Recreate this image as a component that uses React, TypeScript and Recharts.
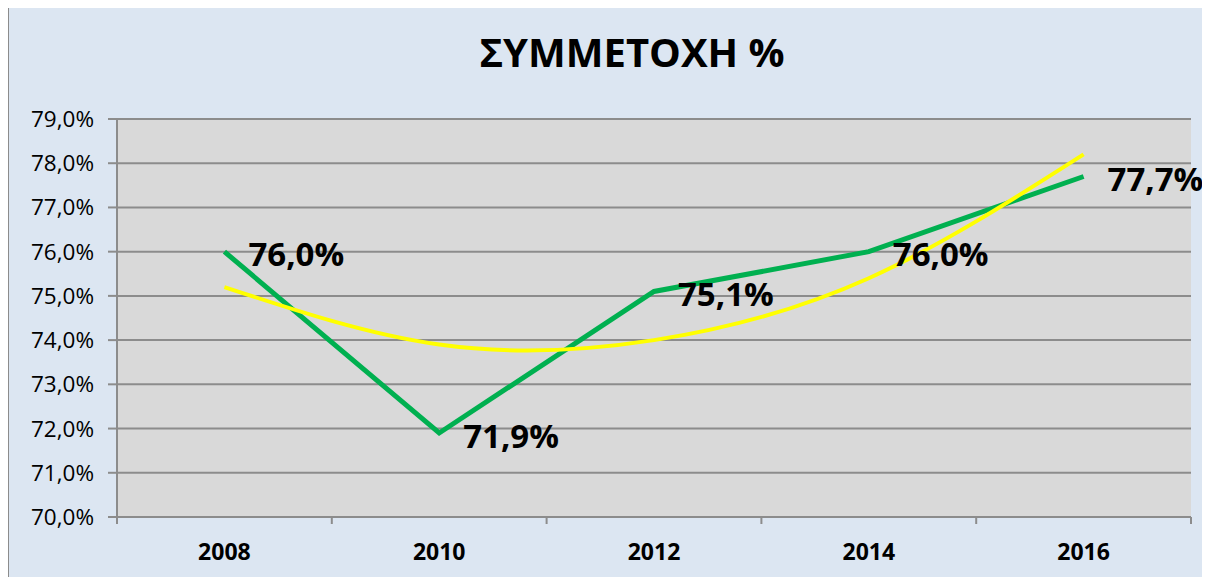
import React from "react";
import { LineChart, Line, XAxis, YAxis, CartesianGrid, LabelList } from "recharts";

const years = ["2008", "2010", "2012", "2014", "2016"];
const participation = [76.0, 71.9, 75.1, 76.0, 77.7];
const trend = [75.2, 73.9, 74.0, 75.4, 78.2];
const yTicks = [70, 71, 72, 73, 74, 75, 76, 77, 78, 79];

const data = years.map((y, i) => ({ year: y, value: participation[i], trend: trend[i] }));

const FONT = "'Open Sans', 'Noto Sans', sans-serif";
const fmt = (v: number) => v.toFixed(1).replace(".", ",") + "%";

const CHART_W = 1201;
const CHART_H = 569;
const M = { top: 111, right: 19, left: 0, bottom: 20 };
const Y_W = 108;
const HALF_BAND = (CHART_W - M.right - Y_W) / years.length / 2;

const XTick = (props: any) => {
  const { x, y, payload, index } = props;
  return (
    <g>
      <line x1={x - HALF_BAND} x2={x - HALF_BAND} y1={y} y2={y + 7} stroke="#8c8c8c" strokeWidth={2} />
      {index === years.length - 1 && (
        <line x1={x + HALF_BAND} x2={x + HALF_BAND} y1={y} y2={y + 7} stroke="#8c8c8c" strokeWidth={2} />
      )}
      <text x={x} y={y + 35} dy="0.35em" textAnchor="middle" fontFamily={FONT} fontWeight={700} fontSize={23} fill="#000">
        {payload.value}
      </text>
    </g>
  );
};

const ValueLabel = (props: any) => {
  const { x, y, value } = props;
  return (
    <text x={x + 24} y={y + 3} dy="0.35em" textAnchor="start" fontFamily={FONT} fontWeight={700} fontSize={33} fill="#000">
      {fmt(value)}
    </text>
  );
};

export default function App() {
  return (
    <div
      style={{
        position: "relative",
        width: 1202,
        height: 570,
        marginTop: -1,
        boxSizing: "border-box",
        background: "#dce6f2",
        borderLeft: "1px solid #8c8c8c",
        borderTop: "1px solid #8c8c8c",
        overflow: "hidden",
      }}
    >
      <div
        style={{
          position: "absolute",
          left: 0,
          width: 1246,
          top: 20,
          textAlign: "center",
          fontFamily: FONT,
          fontWeight: 700,
          fontSize: 40,
          lineHeight: "48px",
          color: "#000",
        }}
      >
        ΣΥΜΜΕΤΟΧΗ %
      </div>
      <div style={{ position: "absolute", left: 0, top: 0 }}>
        <LineChart width={CHART_W} height={CHART_H} data={data} margin={M}>
          <CartesianGrid vertical={false} stroke="#8c8c8c" strokeWidth={2} fill="#d9d9d9" />
          <XAxis
            dataKey="year"
            scale="band"
            height={40}
            axisLine={{ stroke: "#8c8c8c", strokeWidth: 2 }}
            tickLine={false}
            tickSize={0}
            tickMargin={0}
            tick={<XTick />}
            interval={0}
          />
          <YAxis
            width={Y_W}
            domain={[70, 79]}
            ticks={yTicks}
            interval={0}
            tickFormatter={fmt}
            axisLine={{ stroke: "#8c8c8c", strokeWidth: 2 }}
            tickLine={{ stroke: "#8c8c8c", strokeWidth: 2 }}
            tickSize={9}
            tickMargin={14}
            tick={{ fill: "#000", fontSize: 22.5, fontFamily: FONT }}
          />
          <Line
            type="linear"
            dataKey="value"
            stroke="#00b050"
            strokeWidth={5}
            dot={false}
            isAnimationActive={false}
          >
            <LabelList dataKey="value" content={<ValueLabel />} />
          </Line>
          <Line
            type="natural"
            dataKey="trend"
            stroke="#ffff00"
            strokeWidth={4}
            dot={false}
            isAnimationActive={false}
          />
        </LineChart>
      </div>
    </div>
  );
}
